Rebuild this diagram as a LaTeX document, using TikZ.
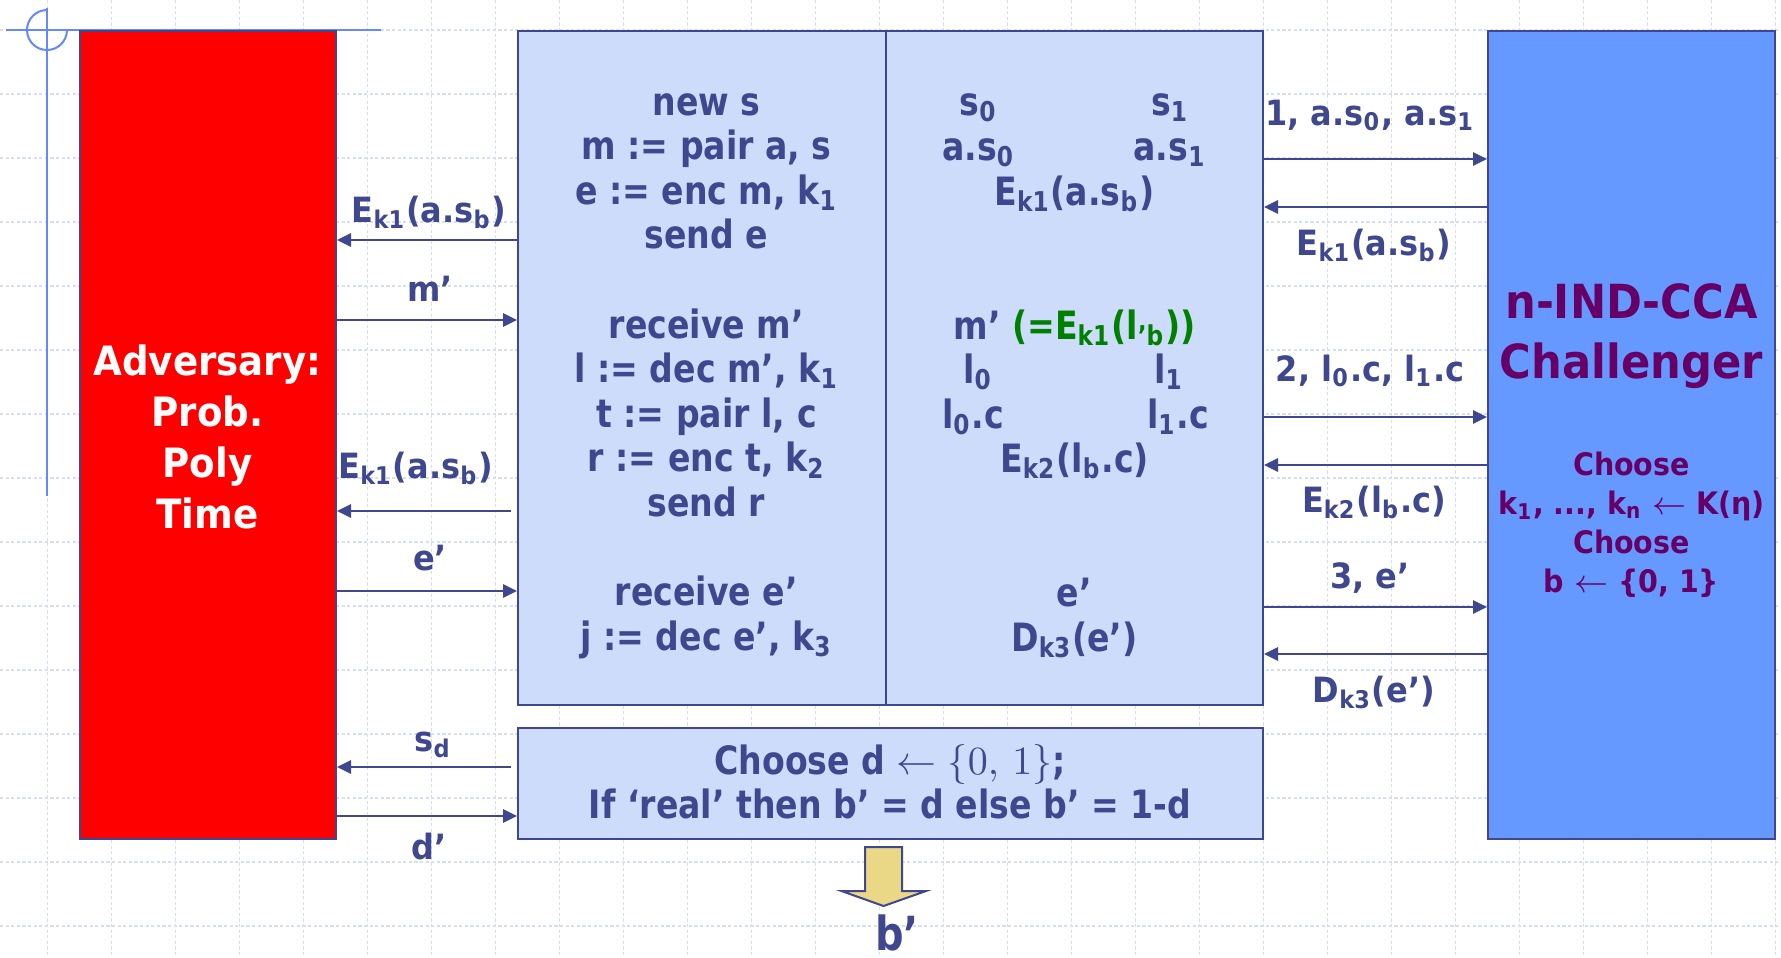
\documentclass[tikz,border=0pt]{standalone}
\usepackage{fontspec}
\setmainfont[FakeStretch=0.92]{DejaVu Sans}
\newfontfamily\narrowfont[FakeStretch=0.85]{DejaVu Sans}
\usepackage{tikz}
\usetikzlibrary{
    arrows.meta,
    fit
}
\definecolor{Ink}{RGB}{63,72,142}
\definecolor{PaleBlue}{RGB}{205,220,250}
\definecolor{SkyBlue}{RGB}{102,153,255}
\definecolor{Plum}{RGB}{102,0,102}
\definecolor{Leaf}{RGB}{0,128,0}
\definecolor{Sand}{RGB}{234,216,134}
\definecolor{GridBlue}{RGB}{214,222,245}
\definecolor{CrossBlue}{RGB}{102,136,255}

\begin{document}
\begin{tikzpicture}[
    x=0.25pt,
    y=-0.25pt,
    box/.style={
        draw=Ink,
        line width=0.5pt,
        inner sep=0pt
    },
    msg/.style={
        draw=Ink,
        line width=0.6pt,
        -{Triangle[length=3.5pt,width=3.3pt]}
    },
    lbl/.style={
        text=Ink,
        inner sep=0pt,
        anchor=base,
        font=\bfseries\fontsize{8.7}{10}\selectfont
    },
    cmd/.style={
        text=Ink,
        inner sep=0pt,
        anchor=base,
        font=\narrowfont\bfseries\fontsize{9.75}{11.15}\selectfont
    },
    gridline/.style={
        GridBlue,
        line width=0.3pt,
        dash pattern=on 0.8pt off 0.6pt
    },
    cross/.style={
        CrossBlue,
        line width=0.5pt
    }
]
%
    \useasboundingbox
    (0,0)
    rectangle
    (1781,957);
    \fill[white] (0,0) rectangle (1781,957);
%
    \foreach \gx in {0,...,27}{
        \draw[gridline]
        (47.5+64*\gx,0)
        --
        (47.5+64*\gx,957);
    }
    \foreach \gy in {0,...,14}{
        \draw[gridline]
        (0,30+64*\gy)
        --
        (1781,30+64*\gy);
    }
%
    \draw[cross] (6,30) -- (381,30);
    \draw[cross] (47,8) -- (47,496);
    \draw[cross] (47,10) arc[start angle=270, end angle=0, radius=20];
%
    \node[
        box,
        fill=red,
        fit={(80,31) (336,839)}
    ] (adv) {};
    \node[
        text=white,
        inner sep=0pt,
        align=center,
        font=\bfseries\fontsize{10.1}{12.75}\selectfont
    ] (advtext) at (207.5,437) {
        Adversary:\\Prob.\\Poly\\Time
    };
%
    \node[
        box,
        fill=PaleBlue,
        fit={(518,31) (1263,705)}
    ] (sim) {};
    \draw[
        Ink,
        line width=0.5pt
    ]
    (sim.north -| 886,0)
    --
    (sim.south -| 886,0);
%
    \node[
        box,
        fill=PaleBlue,
        fit={(518,728) (1263,839)}
    ] (guess) {};
    \node[
        text=Ink,
        inner sep=0pt,
        align=center,
        font=\narrowfont\bfseries\fontsize{9.75}{11}\selectfont
    ] (rule) at (890,782) {
        Choose d $\leftarrow \{0,\,1\}$;\\
        If ‘real’ then b’ = d else b’ = 1-d
    };
%
    \node[
        box,
        fill=SkyBlue,
        fit={(1488,31) (1775,839)}
    ] (chal) {};
    \node[
        text=Plum,
        inner sep=0pt,
        align=center,
        font=\bfseries\fontsize{11.75}{15}\selectfont
    ] (title) at (1631.5,336) {
        n-IND-CCA\\Challenger
    };
    \node[
        text=Plum,
        inner sep=0pt,
        align=center,
        font=\bfseries\fontsize{7.75}{9.75}\selectfont
    ] (keys) at (1631.5,524.5) {
        Choose\\
        k\textsubscript{1}, ..., k\textsubscript{n} $\leftarrow$ K(η)\\
        Choose\\
        b $\leftarrow$ \{0, 1\}
    };
%
    % left column of the simulator
    \foreach \k/\txt in {
        0/new s,
        1/{m := pair a, s},
        2/{e := enc m, k\textsubscript{1}},
        3/send e,
        5/receive m’,
        6/{l := dec m’, k\textsubscript{1}},
        7/{t := pair l, c},
        8/{r := enc t, k\textsubscript{2}},
        9/send r,
        11/receive e’,
        12/{j := dec e’, k\textsubscript{3}}
    }{
        \node[cmd] (cmd\k) at (706.5,115+44.6*\k) {\txt};
    }
%
    % right column of the simulator
    \node[cmd] (s0) at (978.5,115) {s\textsubscript{0}};
    \node[cmd] (s1) at (1170,115) {s\textsubscript{1}};
    \node[cmd] (as0) at (978.5,160) {a.s\textsubscript{0}};
    \node[cmd] (as1) at (1170,160) {a.s\textsubscript{1}};
    \node[cmd] (ek1) at (1074.5,205) {E\textsubscript{k1}(a.s\textsubscript{b})};
    \node[cmd] (mrec) at (1074.5,339) {
        m’ {\color{Leaf}(=E\textsubscript{k1}(l\textsubscript{’b}))}
    };
    \node[cmd] (l0) at (978,383) {l\textsubscript{0}};
    \node[cmd] (l1) at (1169,383) {l\textsubscript{1}};
    \node[cmd] (l0c) at (973,428) {l\textsubscript{0}.c};
    \node[cmd] (l1c) at (1178,428) {l\textsubscript{1}.c};
    \node[cmd] (ek2) at (1074.5,472) {E\textsubscript{k2}(l\textsubscript{b}.c)};
    \node[cmd] (erec) at (1074.5,606) {e’};
    \node[cmd] (dk3) at (1074.5,651) {D\textsubscript{k3}(e’)};
%
    % messages between adversary and simulator
    \draw[msg] (sim.west |- 0,240) -- (adv.east |- 0,240);
    \draw[msg] (adv.east |- 0,320) -- (sim.west |- 0,320);
    \draw[msg, shorten <=1.5pt] (sim.west |- 0,511) -- (adv.east |- 0,511);
    \draw[msg] (adv.east |- 0,591) -- (sim.west |- 0,591);
    \draw[msg, shorten <=1.5pt] (guess.west |- 0,767) -- (adv.east |- 0,767);
    \draw[msg] (adv.east |- 0,816) -- (guess.west |- 0,816);
%
    \node[lbl] (l-ea) at (429,222) {E\textsubscript{k1}(a.s\textsubscript{b})};
    \node[lbl] (l-m) at (430,301) {m’};
    \node[lbl] (l-eb) at (415.7,478) {E\textsubscript{k1}(a.s\textsubscript{b})};
    \node[lbl] (l-e) at (430,570) {e’};
    \node[lbl] (l-s) at (433,751) {s\textsubscript{d}};
    \node[lbl] (l-d) at (429,859) {d’};
%
    % messages between simulator and challenger
    \draw[msg] (sim.east |- 0,159) -- (chal.west |- 0,159);
    \draw[msg] (chal.west |- 0,207) -- (sim.east |- 0,207);
    \draw[msg] (sim.east |- 0,417) -- (chal.west |- 0,417);
    \draw[msg] (chal.west |- 0,465) -- (sim.east |- 0,465);
    \draw[msg] (sim.east |- 0,607) -- (chal.west |- 0,607);
    \draw[msg] (chal.west |- 0,654) -- (sim.east |- 0,654);
%
    \node[lbl] (r-one) at (1370,125) {1, a.s\textsubscript{0}, a.s\textsubscript{1}};
    \node[lbl] (r-ea) at (1374,255) {E\textsubscript{k1}(a.s\textsubscript{b})};
    \node[lbl] (r-two) at (1370,381) {2, l\textsubscript{0}.c, l\textsubscript{1}.c};
    \node[lbl] (r-eb) at (1374,512) {E\textsubscript{k2}(l\textsubscript{b}.c)};
    \node[lbl] (r-three) at (1370,588) {3, e’};
    \node[lbl] (r-d) at (1374,702) {D\textsubscript{k3}(e’)};
%
    % output of the game
    \draw[
        Ink,
        fill=Sand,
        line width=0.5pt,
        line join=miter
    ]
    (865,847)
    --
    (902,847)
    --
    (902,891)
    --
    (926,891)
    --
    (883.5,906)
    --
    (841.5,891)
    --
    (865,891)
    --
    cycle;
    \node[
        cmd,
        font=\narrowfont\bfseries\fontsize{11.75}{14}\selectfont
    ] (bout) at (897,950) {b’};
%
\end{tikzpicture}
\end{document}
